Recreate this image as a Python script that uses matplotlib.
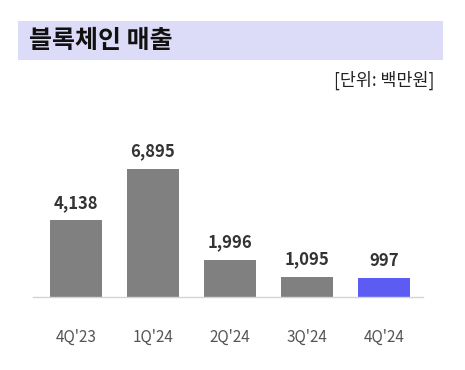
import matplotlib
matplotlib.use("Agg")
import matplotlib.pyplot as plt
from matplotlib.patches import Rectangle

plt.rcParams['font.family'] = ['Noto Sans CJK KR', 'DejaVu Sans']

# Blockchain revenue by quarter (unit: million KRW)
quarters = ["4Q'23", "1Q'24", "2Q'24", "3Q'24", "4Q'24"]
revenue = [4138, 6895, 1996, 1095, 997]
bar_colors = ["#808080", "#808080", "#808080", "#808080", "#5c5cf2"]

W, H = 465, 370
fig = plt.figure(figsize=(W / 100, H / 100), dpi=100)

# title band
fig.patches.append(Rectangle((18 / W, 1 - 60 / H), 425 / W, 39 / H,
                             transform=fig.transFigure, facecolor="#dddcf8",
                             edgecolor="none", zorder=0))
fig.text(29 / W, 1 - 41 / H, "블록체인 매출", fontsize=18, fontweight="bold",
         color="#111111", va="center", ha="left")
fig.text(435 / W, 1 - 80 / H, "[단위: 백만원]", fontsize=12.5, color="#222222",
         va="center", ha="right")

# bar axes: baseline at y=297px, spans x 33..423px
ax = fig.add_axes([33 / W, 1 - 297 / H, 390 / W, 157 / H])
x = range(len(quarters))
bars = ax.bar(x, revenue, width=0.675, color=bar_colors, zorder=2)
ax.set_xlim(-0.558, 4.506)
ax.set_ylim(0, 8455)

for b, v in zip(bars, revenue):
    ax.annotate(f"{v:,}", (b.get_x() + b.get_width() / 2, v),
                xytext=(0, 6), textcoords="offset points", ha="center",
                va="bottom", fontsize=12, fontweight="bold", color="#333333")

ax.set_xticks(list(x))
ax.set_xticklabels(quarters, fontsize=11, color="#555555")
ax.tick_params(axis="x", length=0, pad=23)
ax.set_yticks([])
for side in ["top", "left", "right"]:
    ax.spines[side].set_visible(False)
ax.spines["bottom"].set_color("#d4d4d4")
ax.spines["bottom"].set_linewidth(1)
ax.patch.set_alpha(0)

fig.savefig("out.png", dpi=100, facecolor="white")
